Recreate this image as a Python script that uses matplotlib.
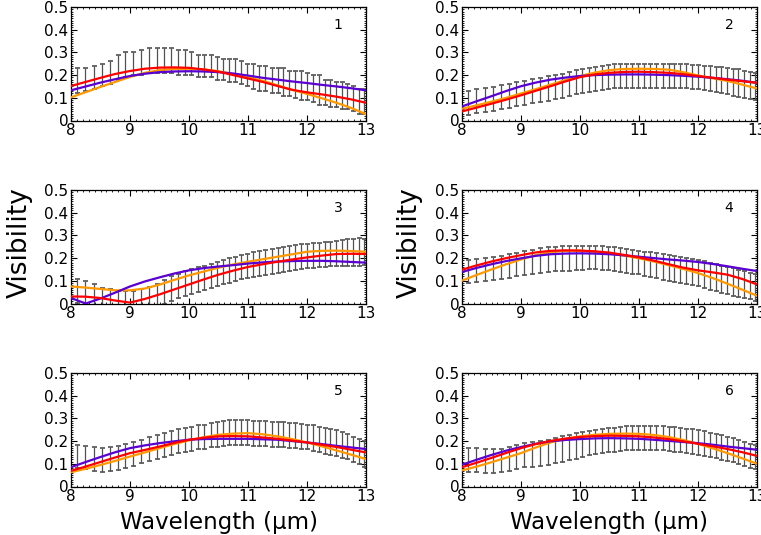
import matplotlib
matplotlib.use("Agg")
import matplotlib.pyplot as plt
from matplotlib.ticker import MultipleLocator, FixedLocator, FixedFormatter

# ---------------- data ----------------
wl_data = [8.11, 8.24, 8.39, 8.52, 8.66, 8.79, 8.92, 9.05, 9.19, 9.32, 9.45, 9.58, 9.70, 9.82, 9.93,
           10.04, 10.16, 10.26, 10.37, 10.47, 10.57, 10.68, 10.78, 10.88, 10.98, 11.09, 11.19, 11.29,
           11.40, 11.50, 11.59, 11.70, 11.80, 11.90, 12.00, 12.10, 12.20, 12.30, 12.39, 12.49, 12.59,
           12.68, 12.78, 12.88, 12.97]

wl_model = [8.00, 8.25, 8.50, 8.75, 9.00, 9.25, 9.50, 9.75, 10.00, 10.25, 10.50, 10.75, 11.00,
            11.25, 11.50, 11.75, 12.00, 12.25, 12.50, 12.75, 13.00]

vis1 = [0.175, 0.18, 0.19, 0.20, 0.21, 0.235, 0.245, 0.25, 0.255, 0.265, 0.265, 0.265, 0.265, 0.255, 0.255,
        0.25, 0.24, 0.24, 0.24, 0.23, 0.225, 0.22, 0.22, 0.21, 0.20, 0.195, 0.185, 0.185, 0.175, 0.175,
        0.17, 0.165, 0.16, 0.155, 0.15, 0.14, 0.135, 0.125, 0.12, 0.115, 0.11, 0.105, 0.095, 0.085, 0.085]
err1 = [0.055, 0.05, 0.05, 0.05, 0.05, 0.055, 0.055, 0.05, 0.055, 0.055, 0.055, 0.055, 0.055, 0.055, 0.055,
        0.05, 0.05, 0.05, 0.05, 0.05, 0.045, 0.05, 0.05, 0.05, 0.05, 0.055, 0.055, 0.055, 0.055, 0.055,
        0.06, 0.055, 0.06, 0.065, 0.06, 0.06, 0.065, 0.055, 0.06, 0.055, 0.06, 0.055, 0.055, 0.055, 0.055]

vis2 = [0.078, 0.084, 0.090, 0.096, 0.102, 0.108, 0.115, 0.122, 0.128, 0.135, 0.141, 0.148, 0.154, 0.161, 0.168,
        0.175, 0.180, 0.184, 0.188, 0.191, 0.194, 0.196, 0.197, 0.198, 0.198, 0.198, 0.198, 0.197, 0.197, 0.196,
        0.196, 0.195, 0.194, 0.193, 0.192, 0.189, 0.185, 0.181, 0.177, 0.173, 0.169, 0.165, 0.160, 0.155, 0.150]
err2 = [0.053] * 36 + [0.055, 0.056, 0.057, 0.058, 0.059, 0.06, 0.06, 0.06, 0.06]

vis3 = [0.055, 0.047, 0.030, 0.015, 0.008, 0.003, 0.002, 0.003, 0.012, 0.020, 0.033, 0.050, 0.065, 0.078, 0.088,
        0.096, 0.105, 0.113, 0.122, 0.131, 0.138, 0.146, 0.153, 0.160, 0.166, 0.171, 0.176, 0.180, 0.185, 0.190,
        0.194, 0.198, 0.202, 0.206, 0.210, 0.212, 0.214, 0.216, 0.218, 0.221, 0.222, 0.224, 0.225, 0.227, 0.228]
err3 = [0.054] * 38 + [0.055, 0.056, 0.057, 0.058, 0.06, 0.06, 0.058]

vis4 = [0.140, 0.145, 0.150, 0.155, 0.160, 0.165, 0.172, 0.178, 0.184, 0.189, 0.193, 0.196, 0.198, 0.199, 0.200,
        0.201, 0.202, 0.203, 0.201, 0.199, 0.196, 0.192, 0.188, 0.184, 0.180, 0.176, 0.171, 0.166, 0.161, 0.157,
        0.152, 0.148, 0.143, 0.138, 0.133, 0.127, 0.120, 0.113, 0.107, 0.100, 0.095, 0.089, 0.083, 0.077, 0.070]
err4 = [0.05, 0.05, 0.05, 0.051, 0.051, 0.052, 0.052, 0.052, 0.053, 0.054, 0.055, 0.055, 0.055, 0.054, 0.053,
        0.052, 0.052, 0.052, 0.052, 0.052, 0.052, 0.052, 0.052, 0.052, 0.052, 0.053, 0.054, 0.055, 0.056, 0.056,
        0.057, 0.057, 0.058, 0.058, 0.058, 0.059, 0.059, 0.06, 0.06, 0.06, 0.06, 0.06, 0.059, 0.058, 0.058]

vis5 = [0.132, 0.128, 0.122, 0.118, 0.120, 0.126, 0.134, 0.144, 0.154, 0.164, 0.174, 0.183, 0.191, 0.199, 0.206,
        0.211, 0.216, 0.220, 0.225, 0.229, 0.232, 0.236, 0.239, 0.239, 0.237, 0.235, 0.233, 0.232, 0.231, 0.230,
        0.229, 0.226, 0.223, 0.221, 0.218, 0.213, 0.207, 0.201, 0.196, 0.191, 0.183, 0.175, 0.164, 0.153, 0.143]
err5 = [0.052] * 10 + [0.053] * 10 + [0.055] * 10 + [0.055] * 5 + [0.057] * 5 + [0.056] * 5

vis6 = [0.118, 0.116, 0.113, 0.112, 0.115, 0.122, 0.131, 0.138, 0.142, 0.146, 0.151, 0.158, 0.165, 0.172, 0.179,
        0.185, 0.190, 0.194, 0.199, 0.203, 0.206, 0.209, 0.212, 0.214, 0.215, 0.215, 0.214, 0.213, 0.212, 0.210,
        0.208, 0.205, 0.201, 0.198, 0.194, 0.189, 0.183, 0.178, 0.172, 0.166, 0.159, 0.152, 0.144, 0.136, 0.128]
err6 = [0.052] * 8 + [0.056] * 7 + [0.053] * 15 + [0.054] * 10 + [0.053] * 5

# model curves (purple, red, orange) per panel
purple1 = [0.133, 0.150, 0.167, 0.182, 0.196, 0.206, 0.213, 0.216, 0.217, 0.216, 0.213, 0.207, 0.198, 0.188,
           0.180, 0.172, 0.165, 0.157, 0.150, 0.142, 0.133]
red1 = [0.152, 0.170, 0.188, 0.205, 0.218, 0.228, 0.233, 0.234, 0.232, 0.225, 0.215, 0.200, 0.185, 0.170,
        0.152, 0.135, 0.124, 0.115, 0.105, 0.093, 0.078]
orange1 = [0.102, 0.125, 0.148, 0.170, 0.192, 0.210, 0.222, 0.227, 0.228, 0.225, 0.217, 0.205, 0.190, 0.175,
           0.155, 0.135, 0.117, 0.098, 0.078, 0.055, 0.028]

purple2 = [0.062, 0.085, 0.107, 0.130, 0.151, 0.167, 0.180, 0.189, 0.196, 0.200, 0.202, 0.203, 0.203, 0.202,
           0.200, 0.197, 0.193, 0.188, 0.182, 0.175, 0.166]
red2 = [0.040, 0.057, 0.074, 0.092, 0.111, 0.131, 0.151, 0.172, 0.191, 0.203, 0.210, 0.214, 0.215, 0.213,
        0.210, 0.204, 0.196, 0.188, 0.180, 0.173, 0.166]
orange2 = [0.052, 0.067, 0.083, 0.100, 0.119, 0.138, 0.158, 0.178, 0.196, 0.211, 0.222, 0.227, 0.228, 0.227,
           0.224, 0.213, 0.198, 0.186, 0.174, 0.158, 0.141]

purple3 = [0.024, 0.000, 0.022, 0.048, 0.075, 0.097, 0.115, 0.132, 0.146, 0.156, 0.163, 0.169, 0.176, 0.181,
           0.185, 0.187, 0.188, 0.188, 0.186, 0.183, 0.180]
red3 = [0.031, 0.030, 0.024, 0.013, 0.004, 0.020, 0.040, 0.062, 0.084, 0.106, 0.127, 0.145, 0.161, 0.173,
        0.184, 0.194, 0.203, 0.211, 0.218, 0.219, 0.218]
orange3 = [0.075, 0.070, 0.064, 0.058, 0.058, 0.066, 0.083, 0.104, 0.124, 0.141, 0.158, 0.172, 0.184, 0.195,
           0.206, 0.217, 0.228, 0.232, 0.233, 0.231, 0.228]

purple4 = [0.139, 0.157, 0.173, 0.187, 0.199, 0.210, 0.217, 0.220, 0.221, 0.220, 0.217, 0.212, 0.206, 0.200,
           0.194, 0.189, 0.183, 0.174, 0.164, 0.153, 0.143]
red4 = [0.149, 0.168, 0.185, 0.200, 0.213, 0.225, 0.232, 0.234, 0.233, 0.230, 0.224, 0.214, 0.203, 0.189,
        0.173, 0.158, 0.146, 0.137, 0.127, 0.108, 0.084]
orange4 = [0.101, 0.126, 0.150, 0.173, 0.194, 0.213, 0.226, 0.232, 0.233, 0.228, 0.221, 0.211, 0.199, 0.185,
           0.169, 0.152, 0.134, 0.112, 0.087, 0.061, 0.034]

purple5 = [0.085, 0.108, 0.130, 0.151, 0.169, 0.181, 0.191, 0.199, 0.206, 0.209, 0.210, 0.210, 0.210, 0.208,
           0.206, 0.200, 0.194, 0.187, 0.179, 0.172, 0.165]
red5 = [0.069, 0.088, 0.108, 0.128, 0.147, 0.161, 0.176, 0.192, 0.206, 0.215, 0.221, 0.222, 0.221, 0.216,
        0.210, 0.202, 0.194, 0.184, 0.174, 0.162, 0.150]
orange5 = [0.063, 0.078, 0.095, 0.113, 0.132, 0.150, 0.169, 0.187, 0.203, 0.217, 0.228, 0.233, 0.235, 0.230,
           0.221, 0.209, 0.194, 0.177, 0.159, 0.140, 0.121]

purple6 = [0.096, 0.118, 0.139, 0.158, 0.174, 0.188, 0.199, 0.205, 0.209, 0.212, 0.213, 0.212, 0.210, 0.206,
           0.201, 0.196, 0.191, 0.184, 0.176, 0.169, 0.162]
red6 = [0.085, 0.105, 0.126, 0.148, 0.169, 0.187, 0.201, 0.211, 0.218, 0.222, 0.224, 0.223, 0.221, 0.216,
        0.209, 0.199, 0.188, 0.177, 0.165, 0.151, 0.135]
orange6 = [0.071, 0.088, 0.107, 0.127, 0.147, 0.172, 0.194, 0.210, 0.221, 0.228, 0.232, 0.233, 0.232, 0.227,
           0.218, 0.205, 0.188, 0.168, 0.147, 0.124, 0.100]

panel_labels = ["1", "2", "3", "4", "5", "6"]
x_ticks = [8, 9, 10, 11, 12, 13]
y_ticks = [0, 0.1, 0.2, 0.3, 0.4, 0.5]
y_ticklabels = ["0", "0.1", "0.2", "0.3", "0.4", "0.5"]

panels = [
    (vis1, err1, purple1, red1, orange1),
    (vis2, err2, purple2, red2, orange2),
    (vis3, err3, purple3, red3, orange3),
    (vis4, err4, purple4, red4, orange4),
    (vis5, err5, purple5, red5, orange5),
    (vis6, err6, purple6, red6, orange6),
]

# ---------------- figure ----------------
plt.rcParams['font.family'] = ['DejaVu Sans']
fig = plt.figure(figsize=(7.61, 5.35), dpi=100)

W, H = 761.0, 535.0
col_left = [71, 462]
ax_w = 295
row_top = [7, 190, 373]
ax_h = 113.5

C_PURPLE = '#5a00d2'
C_RED = '#ff0000'
C_ORANGE = '#ff9900'

axes = []
for i, (vis, err, pu, re, orr) in enumerate(panels):
    r, c = divmod(i, 2)
    ax = fig.add_axes([col_left[c] / W, 1 - (row_top[r] + ax_h) / H, ax_w / W, ax_h / H])
    axes.append(ax)
    eb = ax.errorbar(wl_data, vis, yerr=err, fmt='none', ecolor='0.32', elinewidth=0.9,
                     capsize=1.8, capthick=1.2, zorder=2)
    for cl in eb[1]:
        cl.set_color('black')
    ax.plot(wl_model, orr, color=C_ORANGE, lw=1.6, zorder=3)
    ax.plot(wl_model, pu, color=C_PURPLE, lw=1.6, zorder=3)
    ax.plot(wl_model, re, color=C_RED, lw=1.6, zorder=4)

    ax.set_xlim(8, 13)
    ax.set_ylim(0, 0.5)
    ax.xaxis.set_major_locator(FixedLocator(x_ticks))
    ax.yaxis.set_major_locator(FixedLocator(y_ticks))
    ax.yaxis.set_major_formatter(FixedFormatter(y_ticklabels))
    ax.xaxis.set_minor_locator(MultipleLocator(0.1))
    ax.yaxis.set_minor_locator(MultipleLocator(0.01))
    ax.tick_params(which='both', direction='in', top=True, right=True)
    ax.tick_params(which='major', length=4, width=0.8, labelsize=11, pad=2)
    ax.tick_params(which='minor', length=1.5, width=0.6)
    for s in ax.spines.values():
        s.set_linewidth(0.9)
    ax.text(0.905, 0.84, panel_labels[i], transform=ax.transAxes, fontsize=10,
            ha='center', va='center')

    if r == 1:
        ax.set_ylabel('Visibility', fontsize=19)
        ax.yaxis.set_label_coords((33 - 71) / ax_w if c == 0 else (423 - 462) / ax_w, 0.54)
    if r == 2:
        ax.set_xlabel('Wavelength (μm)', fontsize=16.5, labelpad=5)

fig.savefig('out.png', dpi=100)
